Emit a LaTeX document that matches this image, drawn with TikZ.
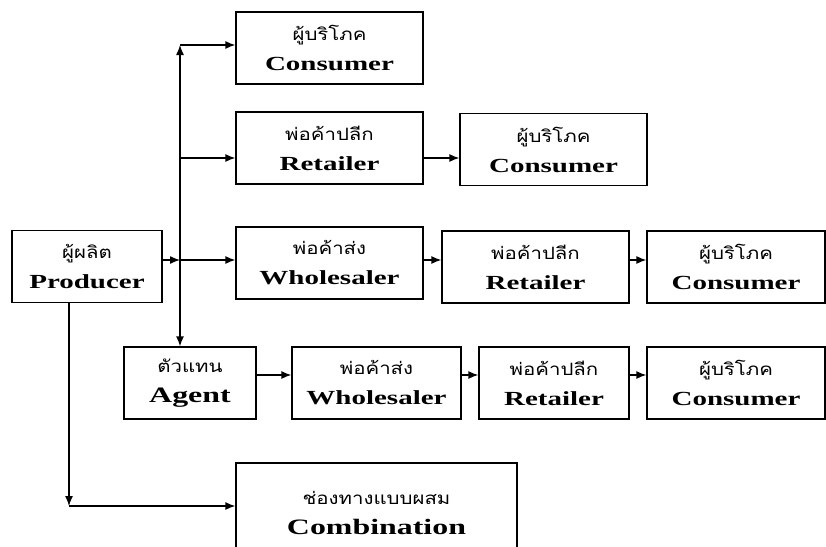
\documentclass[tikz,border=0pt]{standalone}
\usepackage{fontspec}
\usepackage{tikz}
\usetikzlibrary{arrows.meta,calc,positioning}
\newfontfamily\thaifont[Script=Thai,FakeStretch=1.2]{Loma}
\newfontfamily\engfont[FakeStretch=1.45]{Liberation Serif}
\newcommand{\chan}[2]{{\thaifont\fontsize{17}{17}\selectfont #1}\\{\engfont\bfseries #2}}
\tikzset{
  chbox/.style={draw,line width=1.3pt,rectangle,minimum width=187,minimum height=72,inner sep=2pt,align=center,font=\fontsize{20}{30}\selectfont},
  flow/.style={line width=1.3pt,-{Latex[length=10pt,width=8pt]}}
}

\begin{document}
\begin{tikzpicture}[x=1pt,y=-1pt]
    \useasboundingbox (0,0) rectangle (826,546);
    \node[chbox] (cons1) at (329.5,48) {\chan{ผู้บริโภค}{Consumer}};
    \node[chbox] (ret2) at (329.5,148) {\chan{พ่อค้าปลีก}{Retailer}};
    \node[chbox] (cons2) at (553.5,149.5) {\chan{ผู้บริโภค}{Consumer}};
    \node[chbox,minimum width=150] (prod) at (87,266.5) {\chan{ผู้ผลิต}{Producer}};
    \node[chbox] (whole3) at (329.5,263) {\chan{พ่อค้าส่ง}{Wholesaler}};
    \node[chbox] (ret3) at (535.5,267) {\chan{พ่อค้าปลีก}{Retailer}};
    \node[chbox,minimum width=178] (cons3) at (736,267) {\chan{ผู้บริโภค}{Consumer}};
    \node[chbox,minimum width=132] (agent) at (190,383) {\chan{ตัวแทน}{\fontsize{22}{30}\selectfont Agent}};
    \node[chbox,minimum width=169] (whole4) at (376.5,383) {\chan{พ่อค้าส่ง}{Wholesaler}};
    \node[chbox,minimum width=150] (ret4) at (554,383) {\chan{พ่อค้าปลีก}{Retailer}};
    \node[chbox,minimum width=178] (cons4) at (736,383) {\chan{ผู้บริโภค}{Consumer}};
    \node[chbox,minimum width=281,minimum height=100] (comb) at (376.5,513) {\chan{ช่องทางแบบผสม}{\fontsize{22}{30}\selectfont Combination}};
    \coordinate (j) at (180,260);
    \coordinate (up) at (180,45);
    \coordinate (r2) at (180,158);
    \coordinate (r4) at (180,375);
    \coordinate (cb) at (69,506);
    \draw[flow] (prod.east |- j) -- (j);
    \draw[flow] (j) -- (up);
    \draw[flow] (up) -- (up -| cons1.west);
    \draw[flow] (r2) -- (r2 -| ret2.west);
    \draw[flow] (j) -- (j -| whole3.west);
    \draw[flow] (j) -- (j |- agent.north);
    \draw[flow] (r2 -| ret2.east) -- (r2 -| cons2.west);
    \draw[flow] (j -| whole3.east) -- (j -| ret3.west);
    \draw[flow] (j -| ret3.east) -- (j -| cons3.west);
    \foreach \a/\b in {agent/whole4,whole4/ret4,ret4/cons4}{\draw[flow] (r4 -| \a.east) -- (r4 -| \b.west);}
    \draw[flow] (cb |- prod.south) -- (cb);
    \draw[flow] (cb) -- (cb -| comb.west);
  \end{tikzpicture}
\end{document}
